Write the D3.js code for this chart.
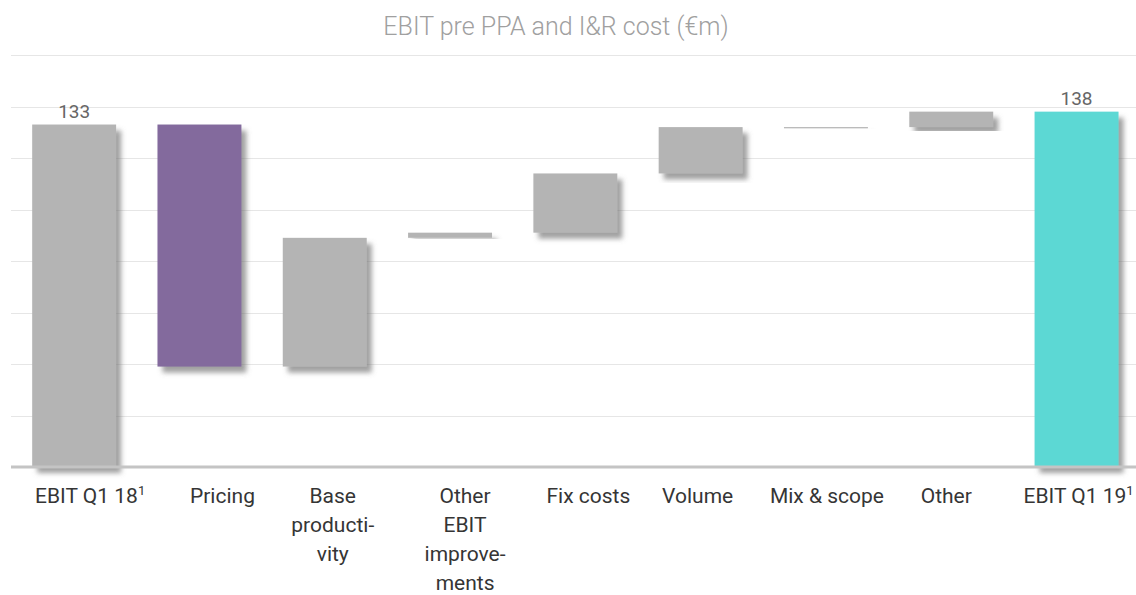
<!DOCTYPE html>
<html>
<head>
<meta charset="utf-8">
<script src="https://cdn.jsdelivr.net/npm/d3@7"></script>
<style>
  body { margin: 0; background: #fff; }
  svg { display: block; }
</style>
</head>
<body>
<svg id="chart" width="1136" height="595"></svg>
<script>
// Waterfall: EBIT bridge Q1 18 -> Q1 19 (€m)
const categories = ["EBIT Q1 18", "Pricing", "Base productivity", "Other EBIT improvements",
                    "Fix costs", "Volume", "Mix & scope", "Other", "EBIT Q1 19"];
// label lines as wrapped under each bar ("^" marks a footnote superscript)
const categoryLines = [["EBIT Q1 18^1"], ["Pricing"], ["Base", "producti-", "vity"],
                       ["Other", "EBIT", "improve-", "ments"], ["Fix costs"], ["Volume"],
                       ["Mix & scope"], ["Other"], ["EBIT Q1 19^1"]];
const startValue = 133;
const deltas = [-94, 50, 2, 23, 18, 0, 6];
const endValue = 138;
const kinds = ["total", "delta", "delta", "delta", "delta", "delta", "delta", "delta", "total"];
const yTicks = [20, 40, 60, 80, 100, 120, 140, 160];
const title = "EBIT pre PPA and I&R cost (€m)";

const W = 1136, H = 595;
const svg = d3.select("#chart");

const colors = { base: "#b4b4b4", pricing: "#836b9d", end: "#5cd8d4" };
const fillFor = i => i === 1 ? colors.pricing : (i === categories.length - 1 ? colors.end : colors.base);
// small horizontal nudges for the category captions
const labelNudge = [16, 23, 8, 15, 13, -3, 1, -5, 2];

// build bar extents
const bars = [];
let running = startValue;
bars.push({ name: categories[0], y0: 0, y1: startValue, kind: kinds[0], value: startValue });
deltas.forEach((d, i) => {
  const from = running;
  running += d;
  bars.push({ name: categories[i + 1], y0: Math.min(from, running), y1: Math.max(from, running), kind: kinds[i + 1], value: d });
});
bars.push({ name: categories[categories.length - 1], y0: 0, y1: endValue, kind: kinds[kinds.length - 1], value: endValue });

const x = d3.scaleBand().domain(categories).range([11.5, 1139.2]).paddingInner(0.33).paddingOuter(0.165);
const y = d3.scaleLinear().domain([0, 160]).range([467, 55]);

// drop shadow for bars
const defs = svg.append("defs");
const f = defs.append("filter").attr("id", "shadow").attr("x", "-20%").attr("y", "-20%").attr("width", "140%").attr("height", "140%");
f.append("feDropShadow").attr("dx", 5).attr("dy", 6).attr("stdDeviation", 2.5)
  .attr("flood-color", "#6e6e6e").attr("flood-opacity", 0.65);

// gridlines
svg.append("g").selectAll("line").data(yTicks).join("line")
  .attr("x1", 11).attr("x2", W)
  .attr("y1", d => Math.round(y(d)) + 0.5).attr("y2", d => Math.round(y(d)) + 0.5)
  .attr("stroke", "#e6e6e6").attr("stroke-width", 1);

// title
svg.append("text")
  .attr("x", 556).attr("y", 35).attr("text-anchor", "middle")
  .attr("font-family", "Roboto, sans-serif").attr("font-weight", 300).attr("font-size", 25)
  .attr("fill", "#a0a0a0").text(title);

// bars
svg.append("g").selectAll("rect").data(bars).join("rect")
  .attr("x", d => x(d.name))
  .attr("width", x.bandwidth())
  .attr("y", d => y(d.y1))
  .attr("height", d => Math.max(1.2, y(d.y0) - y(d.y1)))
  .attr("fill", (d, i) => fillFor(i))
  .attr("filter", "url(#shadow)");

// baseline axis
svg.append("line")
  .attr("x1", 11).attr("x2", W).attr("y1", y(0)).attr("y2", y(0))
  .attr("stroke", "#c4c4c4").attr("stroke-width", 3);

// value labels on totals
svg.append("g").selectAll("text").data(bars.filter(d => d.kind === "total")).join("text")
  .attr("x", d => x(d.name) + x.bandwidth() / 2)
  .attr("y", d => y(d.y1) - 6.5)
  .attr("text-anchor", "middle")
  .attr("font-family", "Roboto, sans-serif").attr("font-size", 19)
  .attr("fill", "#666").text(d => d3.format("d")(d.value));

// category captions
const cap = svg.append("g").selectAll("text").data(categories).join("text")
  .attr("text-anchor", "middle")
  .attr("font-family", "Roboto, sans-serif").attr("font-size", 21)
  .attr("fill", "#353535")
  .attr("transform", (d, i) => `translate(${x(d) + x.bandwidth() / 2 + labelNudge[i]},503)`);

cap.each(function (d, i) {
  const t = d3.select(this);
  categoryLines[i].forEach((line, j) => {
    const parts = line.split("^");
    t.append("tspan").attr("x", 0).attr("y", j * 29).text(parts[0]);
    if (parts[1]) {
      t.append("tspan").attr("dy", -8).attr("font-size", 13).text(parts[1]);
    }
  });
});
</script>
</body>
</html>
